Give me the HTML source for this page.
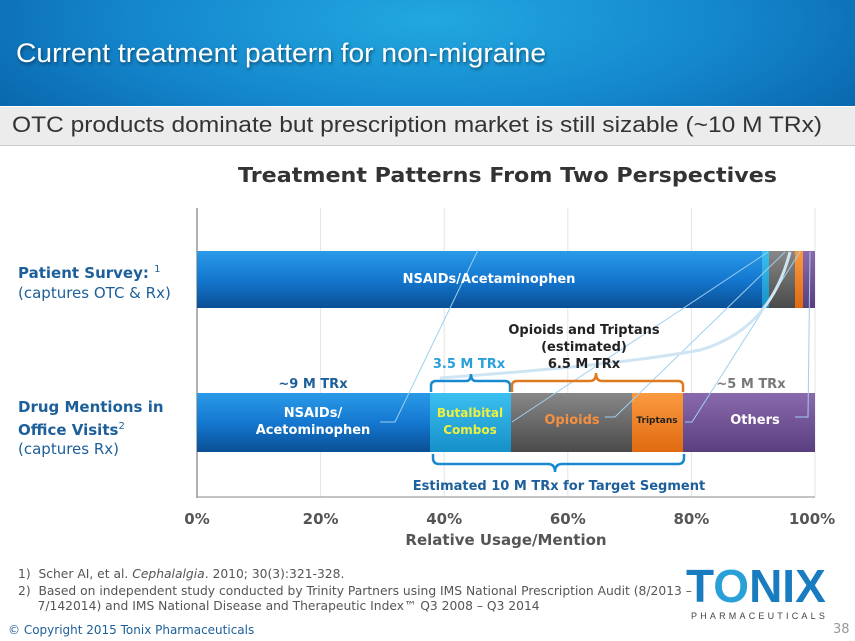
<!DOCTYPE html>
<html><head><meta charset="utf-8"><style>
body{margin:0;width:855px;height:641px;overflow:hidden;background:#fff;font-family:"DejaVu Sans","Liberation Sans",sans-serif;position:relative}
.hdr{position:absolute;left:0;top:0;width:855px;height:106px;background:radial-gradient(ellipse 500px 160px at 430px 20px,#22a8e0,#1486cc 60%,#0a68ae)}
.hdr div{position:absolute;left:16px;top:38px;color:#fff;font-size:27px;font-family:"Liberation Sans",sans-serif;text-shadow:1px 2px 3px rgba(0,0,0,.45);transform:scaleX(1.045);transform-origin:0 0}
.sub{position:absolute;left:0;top:107px;width:855px;height:38px;background:#ececec;border-bottom:1px solid #ccc;color:#333}
.sub span{position:absolute;left:12px;top:5px;font-size:22px;font-family:"Liberation Sans",sans-serif;white-space:nowrap;transform:scaleX(1.115);transform-origin:0 0}
.t{position:absolute;white-space:nowrap}
</style></head><body>
<div class="hdr"><div>Current treatment pattern for non-migraine</div></div>
<div class="sub"><span>OTC products dominate but prescription market is still sizable (~10 M TRx)</span></div>
<svg width="855" height="641" style="position:absolute;left:0;top:0" font-family="DejaVu Sans, sans-serif">
<defs>
<linearGradient id="b" x1="0" y1="0" x2="0" y2="1"><stop offset="0" stop-color="#2a9ae8"/><stop offset=".5" stop-color="#1478d0"/><stop offset="1" stop-color="#0a4f94"/></linearGradient>
<linearGradient id="g" x1="0" y1="0" x2="0" y2="1"><stop offset="0" stop-color="#888"/><stop offset="1" stop-color="#4a4a4a"/></linearGradient>
<linearGradient id="c" x1="0" y1="0" x2="0" y2="1"><stop offset="0" stop-color="#3cc0f0"/><stop offset="1" stop-color="#1690c8"/></linearGradient>
<linearGradient id="o" x1="0" y1="0" x2="0" y2="1"><stop offset="0" stop-color="#fb9a40"/><stop offset="1" stop-color="#e06a10"/></linearGradient>
<linearGradient id="p" x1="0" y1="0" x2="0" y2="1"><stop offset="0" stop-color="#8a6aac"/><stop offset="1" stop-color="#5a3f80"/></linearGradient>
</defs>
<text x="238" y="182" font-size="20" font-weight="bold" fill="#333" textLength="539" lengthAdjust="spacingAndGlyphs">Treatment Patterns From Two Perspectives</text>
<g stroke="#e4e4e4" stroke-width="1">
<line x1="320.6" y1="208" x2="320.6" y2="497"/><line x1="444.2" y1="208" x2="444.2" y2="497"/><line x1="567.8" y1="208" x2="567.8" y2="497"/><line x1="691.4" y1="208" x2="691.4" y2="497"/><line x1="815" y1="208" x2="815" y2="497"/>
</g>
<line x1="197" y1="208" x2="197" y2="498" stroke="#666"/>
<line x1="197" y1="497" x2="815" y2="497" stroke="#888"/>
<rect x="197" y="251" width="565" height="57" fill="url(#b)"/>
<rect x="762" y="251" width="7" height="57" fill="url(#c)"/>
<rect x="769" y="251" width="26" height="57" fill="url(#g)"/>
<rect x="795" y="251" width="8" height="57" fill="url(#o)"/>
<rect x="803" y="251" width="12" height="57" fill="url(#p)"/>
<rect x="197" y="393" width="233" height="59" fill="url(#b)"/>
<rect x="430" y="393" width="81" height="59" fill="url(#c)"/>
<rect x="511" y="393" width="121" height="59" fill="url(#g)"/>
<rect x="632" y="393" width="51" height="59" fill="url(#o)"/>
<rect x="683" y="393" width="132" height="59" fill="url(#p)"/>
<g stroke="#9fd0f0" stroke-width="1" fill="none">
<path d="M380 422 L395 422 L478 250"/><path d="M512 422 L768 252"/><path d="M605 417 L615 417 L785 252"/><path d="M685 422 L692 422 L800 252"/><path d="M795 417 L808 417 L810 252"/>
<path d="M440 378 Q620 365 700 350 Q770 330 790 252" stroke="#cfe5f3" stroke-width="3"/>
</g>
<g fill="none" stroke-width="2.5">
<path d="M431 392 V386 Q431 381 436 381 H466 Q471 381 471 374 Q471 381 476 381 H505 Q510 381 510 386 V392" stroke="#1a8ad0"/>
<path d="M512 392 V386 Q512 381 517 381 H590 Q596 381 596 373 Q596 381 602 381 H678 Q683 381 683 386 V392" stroke="#e07a20"/>
<path d="M433 454 V458 Q433 464 439 464 H548 Q555 464 555 472 Q555 464 562 464 H678 Q684 464 684 458 V454" stroke="#1a8ad0"/>
</g>
<g font-weight="bold" text-anchor="middle">
<text x="489" y="283" fill="#fff" font-size="13">NSAIDs/Acetaminophen</text>
<text x="313" y="417" fill="#fff" font-size="13">NSAIDs/</text>
<text x="313" y="434" fill="#fff" font-size="13">Acetominophen</text>
<text x="470" y="417" fill="#eef040" font-size="12">Butalbital</text>
<text x="470" y="434" fill="#eef040" font-size="12">Combos</text>
<text x="572" y="424" fill="#f59040" font-size="13">Opioids</text>
<text x="657" y="423" fill="#222" font-size="9">Triptans</text>
<text x="755" y="424" fill="#fff" font-size="13">Others</text>
<text x="584" y="334" fill="#222" font-size="13">Opioids and Triptans</text>
<text x="584" y="351" fill="#222" font-size="13">(estimated)</text>
<text x="584" y="368" fill="#222" font-size="13">6.5 M TRx</text>
<text x="469" y="368" fill="#2aa0d8" font-size="13">3.5 M TRx</text>
<text x="313" y="388" fill="#1d5f9a" font-size="13">~9 M TRx</text>
<text x="751" y="388" fill="#777" font-size="13">~5 M TRx</text>
<text x="559" y="490" fill="#1d5f9a" font-size="13">Estimated 10 M TRx for Target Segment</text>
<g fill="#555" font-size="15"><text x="197" y="524">0%</text><text x="320.6" y="524">20%</text><text x="444.2" y="524">40%</text><text x="567.8" y="524">60%</text><text x="691.4" y="524">80%</text><text x="812" y="524">100%</text></g>
<text x="506" y="545" fill="#555" font-size="15">Relative Usage/Mention</text>
</g>
</svg>
<div class="t" style="left:18px;top:260px;font-size:15px;color:#1d5f9a;line-height:20px"><b>Patient Survey: </b><sup style="font-size:10px">1</sup><br>(captures OTC &amp; Rx)</div>
<div class="t" style="left:18px;top:398px;font-size:15px;color:#1d5f9a;line-height:19px"><b>Drug Mentions in<br>Office Visits</b><sup style="font-size:10px">2</sup><br>(captures Rx)</div>
<div class="t" style="left:18px;top:567px;font-size:12.3px;color:#555;line-height:15px">1)&nbsp; Scher AI, et al. <i>Cephalalgia</i>. 2010; 30(3):321-328.</div>
<div class="t" style="left:18px;top:584px;font-size:12.3px;color:#555;line-height:15px">2)&nbsp; Based on independent study conducted by Trinity Partners using IMS National Prescription Audit (8/2013 –<br>&nbsp;&nbsp;&nbsp;&nbsp;&nbsp;7/142014) and IMS National Disease and Therapeutic Index™ Q3 2008 – Q3 2014</div>
<div class="t" style="left:8px;top:623px;font-size:12px;color:#1d5f9a">© Copyright 2015 Tonix Pharmaceuticals</div>
<div class="t" style="left:833px;top:622px;font-size:13px;color:#999">38</div>
<div class="t" style="left:686px;top:559px;font-size:46px;font-family:'Liberation Sans',sans-serif;font-weight:bold;color:#1a7cc0">T<span style="color:#2aa0d8">O</span>NIX</div>
<div class="t" style="left:691px;top:611px;font-size:9px;color:#444;letter-spacing:3.2px;font-family:'Liberation Sans',sans-serif">PHARMACEUTICALS</div>
</body></html>
